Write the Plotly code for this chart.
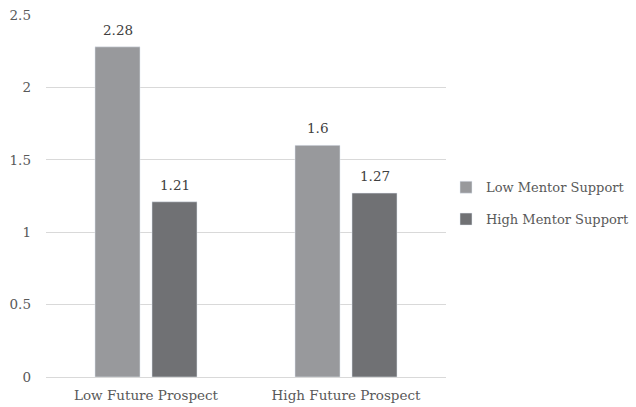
import plotly.graph_objects as go

categories = ["Low Future Prospect", "High Future Prospect"]
low_mentor = [2.28, 1.6]
high_mentor = [1.21, 1.27]
series_names = ["Low Mentor Support", "High Mentor Support"]
y_ticks = [0, 0.5, 1, 1.5, 2, 2.5]
y_tick_labels = ["0", "0.5", "1", "1.5", "2", "2.5"]

FONT = "DejaVu Serif"
TEXT_GREY = "#595959"
LABEL_GREY = "#404040"
BAR_OFFSET_PX = 28.5  # half the distance between the two bar centres in a group

fig = go.Figure()
series = [
    (series_names[0], low_mentor, "#98999c", "a", -BAR_OFFSET_PX),
    (series_names[1], high_mentor, "#707174", "b", BAR_OFFSET_PX),
]
for name, vals, color, grp, dx in series:
    fig.add_trace(go.Bar(
        x=categories, y=vals, name=name, marker_color=color,
        legendgroup=grp,
    ))
    for cat, v in zip(categories, vals):
        fig.add_annotation(
            x=cat, y=v, text=f"{v:g}", showarrow=False,
            xshift=dx, yshift=7, yanchor="bottom",
            font=dict(family=FONT, size=13.5, color=LABEL_GREY),
        )

fig.update_layout(
    width=636, height=407,
    margin=dict(l=46, r=190, t=15, b=30, autoexpand=False),
    paper_bgcolor="white", plot_bgcolor="white",
    barmode="group", bargap=0.43, bargroupgap=0.21,
    font=dict(family=FONT, size=13.5, color=TEXT_GREY),
    xaxis=dict(showline=False, ticks="", tickfont=dict(size=13.5),
               ticklabelstandoff=8),
    yaxis=dict(range=[0, 2.5], tickvals=y_ticks, ticktext=y_tick_labels,
               showgrid=True, gridcolor="#d9d9d9", gridwidth=1,
               zeroline=True, zerolinecolor="#d9d9d9", zerolinewidth=1,
               ticks="", ticklabelstandoff=14, tickfont=dict(size=13.5)),
    legend=dict(x=1.0, y=0.48, xanchor="left", yanchor="middle",
                traceorder="grouped", tracegroupgap=12, itemwidth=30,
                font=dict(family=FONT, size=13, color=TEXT_GREY)),
)

fig.write_html("out.html")
